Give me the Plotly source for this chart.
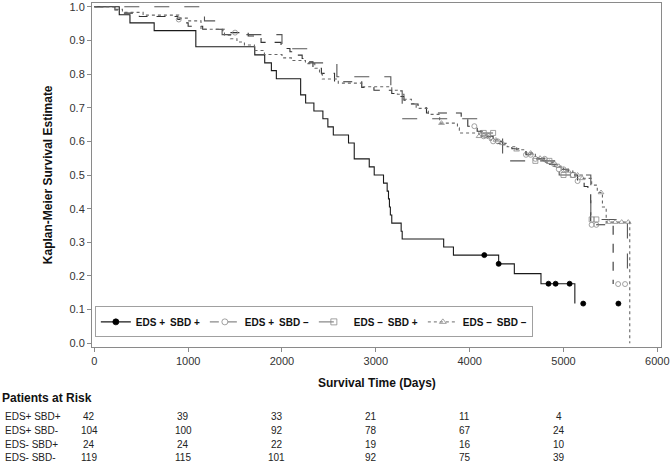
import plotly.graph_objects as go

# ---------------- data ----------------
# EDS+ SBD+  (solid, filled circles)
t_pp = [0, 266, 380, 638, 1082, 1710, 1816, 1887, 1940, 2199, 2252, 2340, 2436, 2489, 2547,
        2709, 2770, 2930, 2983, 3082, 3121, 3135, 3145, 3155, 3170, 3270, 3281, 3723, 3827,
        4309, 4476, 4760, 5121]
s_pp = [1.0, 0.976, 0.952, 0.929, 0.881, 0.857, 0.833, 0.810, 0.786, 0.738, 0.714, 0.690, 0.667,
        0.643, 0.619, 0.595, 0.548, 0.524, 0.500, 0.476, 0.452, 0.429, 0.405, 0.381, 0.357,
        0.333, 0.310, 0.286, 0.262, 0.236, 0.207, 0.177, 0.118]
c_pp = [4156, 4309, 4840, 4916, 5065, 5210, 5585]

# EDS+ SBD-  (short dash, open circles)
t_pm = [0, 220, 300, 480, 890, 960, 1000, 1155, 1370, 1640, 1777, 1990, 2085, 2150, 2215, 2275,
        2330, 2420, 2560, 2850, 2980, 3170, 3230, 3300, 3380, 3450, 3540, 3910, 3980, 4080,
        4150, 4250, 4350, 4450, 4600, 4700, 4850, 4950, 5050, 5150, 5220, 5260, 5290, 5529]
s_pm = [1.0, 0.990, 0.981, 0.971, 0.962, 0.952, 0.942, 0.933, 0.923, 0.913, 0.894, 0.876, 0.866,
        0.856, 0.846, 0.836, 0.817, 0.802, 0.777, 0.760, 0.752, 0.742, 0.733, 0.722, 0.711,
        0.700, 0.684, 0.664, 0.645, 0.630, 0.615, 0.600, 0.590, 0.578, 0.560, 0.548, 0.532,
        0.517, 0.500, 0.482, 0.466, 0.445, 0.352, 0.176]
c_pm = [900, 1500, 4050, 4150, 4200, 4250, 4300, 4600, 4650, 4700, 4800, 4900, 4950, 5000,
        5100, 5150, 5300, 5350, 5582, 5656]

# EDS- SBD+  (long dash, open squares)
t_mp = [0, 1174, 1362, 2000, 2277, 2585, 3160, 3281, 4121, 4351, 4954, 5291, 5681]
s_mp = [1.0, 0.958, 0.917, 0.875, 0.833, 0.792, 0.750, 0.667, 0.625, 0.542, 0.500, 0.368, 0.180]
c_mp = [4150, 4250, 4700, 4850, 5000, 5100, 5300, 5350]

# EDS- SBD-  (dotted, open triangles)
t_mm = [0, 220, 300, 520, 900, 1000, 1137, 1387, 1450, 1520, 1600, 1706, 1813, 2000, 2100, 2250,
        2350, 2400, 2430, 2600, 2850, 3170, 3230, 3300, 3380, 3430, 3560, 3680, 3870, 3890,
        4100, 4200, 4300, 4400, 4500, 4600, 4700, 4800, 4900, 5000, 5100, 5200, 5300, 5360,
        5415, 5455, 5706]
s_mm = [1.0, 0.992, 0.983, 0.975, 0.966, 0.958, 0.933, 0.915, 0.905, 0.895, 0.886, 0.870, 0.858,
        0.848, 0.840, 0.831, 0.817, 0.800, 0.785, 0.773, 0.762, 0.752, 0.740, 0.725, 0.712,
        0.698, 0.680, 0.654, 0.640, 0.625, 0.615, 0.604, 0.594, 0.584, 0.575, 0.565, 0.550,
        0.538, 0.526, 0.512, 0.500, 0.490, 0.470, 0.448, 0.405, 0.360, 0.0]
c_mm = [3700, 4100, 4180, 4280, 4350, 4500, 4650, 4750, 4850, 4950, 5050, 5150, 5200, 5400,
        5480, 5550, 5620, 5690]

group_labels = ["EDS+ SBD+", "EDS+ SBD-", "EDS- SBD+", "EDS- SBD-"]
legend_labels = ["EDS +\u2002SBD +", "EDS +\u2002SBD \u2013", "EDS \u2013\u2002SBD +", "EDS \u2013\u2002SBD \u2013"]
risk_times = [0, 1000, 2000, 3000, 4000, 5000]
risk_pp = [42, 39, 33, 21, 11, 4]
risk_pm = [104, 100, 92, 78, 67, 24]
risk_mp = [24, 24, 22, 19, 16, 10]
risk_mm = [119, 115, 101, 92, 75, 39]
x_ticks = [0, 1000, 2000, 3000, 4000, 5000, 6000]
y_ticks = [0.0, 0.1, 0.2, 0.3, 0.4, 0.5, 0.6, 0.7, 0.8, 0.9, 1.0]


def step_at(ts, ss, t):
    v = ss[0]
    for ti, si in zip(ts, ss):
        if ti <= t:
            v = si
    return v


FONT = "Liberation Sans Narrow, Arial Narrow, Liberation Sans, Arial, sans-serif"
BFONT = "Liberation Sans, Arial, sans-serif"

groups = [
    (t_pp, s_pp, c_pp, "#1a1a1a", "solid", "circle", "#000000", 5),
    (t_pm, s_pm, c_pm, "#333333", "dash", "circle-open", "#8a8a8a", 5),
    (t_mp, s_mp, c_mp, "#555555", "longdash", "square-open", "#8a8a8a", 5),
    (t_mm, s_mm, c_mm, "#666666", "dot", "triangle-up-open", "#8a8a8a", 5),
]

fig = go.Figure()
for (ts, ss, cs, lc, dash, sym, mc, ms), lab in zip(groups, legend_labels):
    fig.add_trace(go.Scatter(x=ts, y=ss, mode="lines", line=dict(color=lc, width=1.1, dash=dash, shape="hv"),
                             showlegend=False, hoverinfo="skip"))
    fig.add_trace(go.Scatter(x=cs, y=[step_at(ts, ss, c) for c in cs], mode="markers",
                             marker=dict(symbol=sym, color=mc, size=ms, line=dict(color=mc, width=0.8)),
                             showlegend=False, hoverinfo="skip"))
    fig.add_trace(go.Scatter(x=[None], y=[None], mode="lines+markers", name=lab,
                             line=dict(color=lc if dash == "solid" else mc, width=1.1, dash=dash),
                             marker=dict(symbol=sym, color=mc, size=6, line=dict(color=mc, width=0.8))))

fig.update_layout(
    width=671, height=464,
    margin=dict(l=92, r=9, t=1, b=117),
    plot_bgcolor="white", paper_bgcolor="white",
    font=dict(family=FONT, size=11, color="#333333"),
    showlegend=True,
    legend=dict(orientation="h", x=0.005, y=0.028, xanchor="left", yanchor="bottom",
                bordercolor="#a0a0a0", borderwidth=1, bgcolor="white",
                font=dict(family=BFONT, size=10, color="#111111", weight="bold"),
                itemwidth=30, entrywidth=64, entrywidthmode="pixels",
                tracegroupgap=0),
    xaxis=dict(range=[-24.5, 6039], tickvals=x_ticks, ticktext=[str(v) for v in x_ticks],
               showgrid=False, zeroline=False, showline=True, linecolor="#8a8a8a", linewidth=1,
               mirror=True, ticks="outside", ticklen=4, tickcolor="#8a8a8a",
               ticklabeloverflow="allow",
               tickfont=dict(family=FONT, size=11, color="#333333")),
    yaxis=dict(range=[-0.011, 1.011], tickvals=y_ticks, ticktext=["%.1f" % v for v in y_ticks],
               showgrid=False, zeroline=False, showline=True, linecolor="#8a8a8a", linewidth=1,
               mirror=True, ticks="outside", ticklen=4, tickcolor="#8a8a8a",
               ticklabeloverflow="allow",
               tickfont=dict(family=FONT, size=11, color="#333333")),
)

ann = []
ann.append(dict(text="<b>Kaplan-Meier Survival Estimate</b>", xref="paper", yref="paper",
                x=-0.077, y=0.5, xanchor="center", yanchor="middle", textangle=-90, showarrow=False,
                font=dict(family=BFONT, size=12, color="#111111")))
ann.append(dict(text="<b>Survival Time (Days)</b>", xref="paper", yref="paper",
                x=0.5, y=-36 / 346, xanchor="center", yanchor="middle", showarrow=False,
                font=dict(family=BFONT, size=12, color="#111111")))
ann.append(dict(text="<b>Patients at Risk</b>", xref="paper", yref="paper",
                x=-92 / 570, y=-51 / 346, xanchor="left", yanchor="middle", showarrow=False,
                font=dict(family=BFONT, size=12, color="#111111")))
rows = [risk_pp, risk_pm, risk_mp, risk_mm]
row_y = [417, 431, 445, 458]
for lab, vals, py in zip(group_labels, rows, row_y):
    yp = (347 - py) / 346
    ann.append(dict(text=lab, xref="paper", yref="paper", x=-89 / 570, y=yp, xanchor="left",
                    yanchor="middle", showarrow=False, font=dict(family=FONT, size=10, color="#222222")))
    for t, v in zip(risk_times, vals):
        ann.append(dict(text=str(v), xref="x", yref="paper", x=t, y=yp, xanchor="center", xshift=-5,
                        yanchor="middle", showarrow=False, font=dict(family=FONT, size=10, color="#222222")))
fig.update_layout(annotations=ann)

fig.write_html("out.html", config={"displayModeBar": False},
               post_script="document.body.style.margin='0';document.body.style.overflow='hidden';")
